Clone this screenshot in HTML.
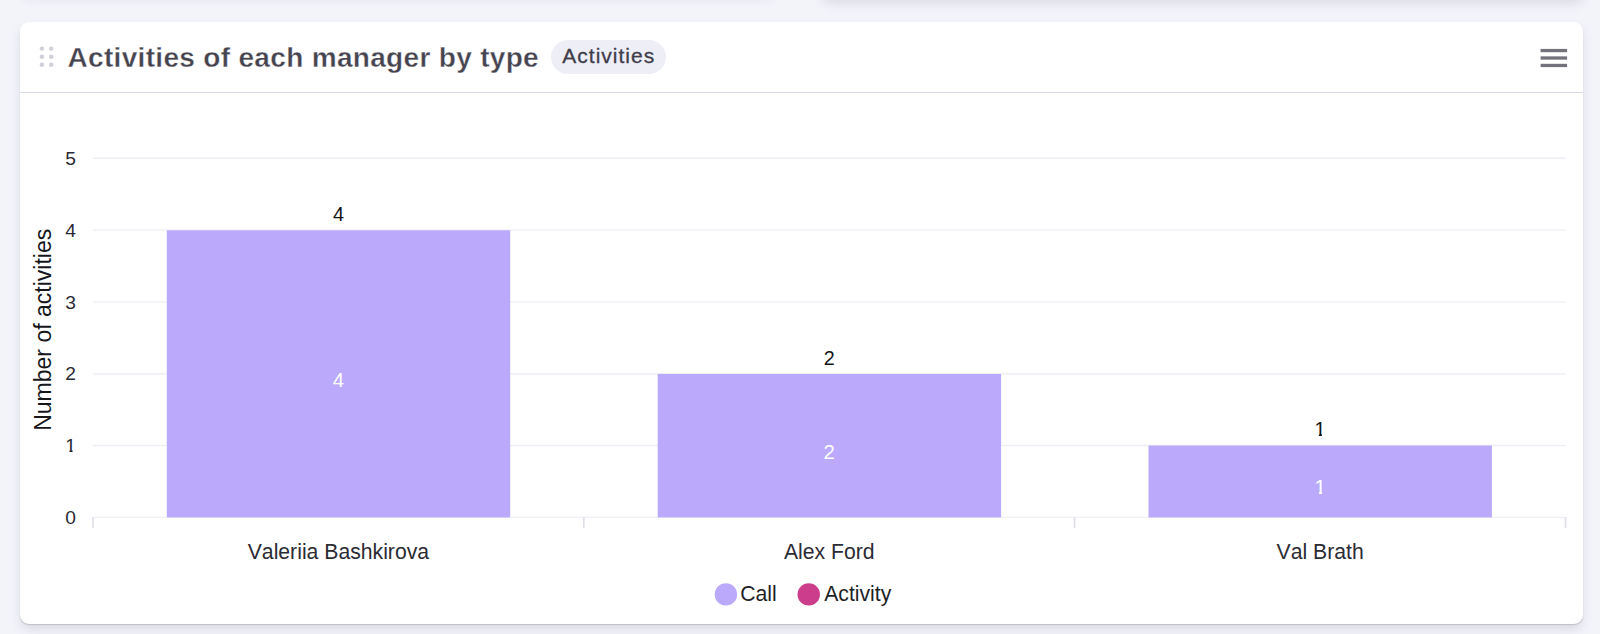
<!DOCTYPE html>
<html lang="en">
<head>
<meta charset="utf-8">
<title>Activities of each manager by type</title>
<style>
*{box-sizing:border-box;margin:0;padding:0}
html,body{width:1600px;height:634px;overflow:hidden;background:#f3f4fa;font-family:"Liberation Sans",Arial,sans-serif;font-kerning:none}
.prev{position:absolute;left:822px;top:-32px;width:762px;height:30px;background:#fff;border-radius:9px;box-shadow:0 1.500px 1px -.500px rgba(40,40,60,.17),0 6px 12px -2px rgba(60,60,90,.17)}
.prev2{position:absolute;left:20px;top:-38px;width:756px;height:30px;background:#fff;border-radius:9px;box-shadow:0 1.500px 1px -.500px rgba(40,40,60,.17),0 6px 12px -2px rgba(60,60,90,.17)}
.card{position:absolute;left:20px;top:22px;width:1563px;height:602px;background:#fff;border-radius:9px;box-shadow:0 1.500px 1px -.500px rgba(40,40,60,.17),0 6px 12px -2px rgba(60,60,90,.17)}
.head{position:absolute;left:0;top:0;right:0;height:71px;border-bottom:1.600px solid #d9d9e4}
.dots{position:absolute;left:19px;top:24px}
.title{position:absolute;left:47.500px;top:20px;-webkit-text-stroke:.350px #fff;font-size:28px;line-height:32px;font-weight:700;color:#45444f;white-space:nowrap;letter-spacing:.320px}
.badge{position:absolute;left:531px;top:18px;width:115px;height:34px;border-radius:17px;background:#eeeef7;color:#3f3d4a;font-size:21px;line-height:32.600px;text-align:center;letter-spacing:1px;padding-left:.500px;-webkit-text-stroke:.300px #3f3d4a}
.menu{position:absolute;left:1520px;top:26px}
svg text{font-family:"Liberation Sans",Arial,sans-serif;font-kerning:none}
</style>
</head>
<body>
<div class="prev2"></div>
<div class="prev"></div>
<div class="card">
  <div class="head">
    <svg class="dots" width="16" height="24" viewBox="0 0 16 24"><g fill="#d0d0d9"><circle cx="2.900" cy="2.600" r="2.200"/><circle cx="12.200" cy="2.600" r="2.200"/><circle cx="2.900" cy="10.700" r="2.200"/><circle cx="12.200" cy="10.700" r="2.200"/><circle cx="2.900" cy="18.700" r="2.200"/><circle cx="12.200" cy="18.700" r="2.200"/></g></svg>
    <div class="title">Activities of each manager by type</div>
    <div class="badge">Activities</div>
    <svg class="menu" width="28" height="20" viewBox="0 0 28 20"><g fill="#73727b"><rect x="0.600" y="0.900" width="26.500" height="3.300"/><rect x="0.600" y="8.350" width="26.500" height="3.300"/><rect x="0.600" y="15.800" width="26.500" height="3.300"/></g></svg>
  </div>
</div>
<svg style="position:absolute;left:0;top:0" width="1600" height="634" viewBox="0 0 1600 634">
  <defs><clipPath id="c1"><path d="M64.30 433.50H77.17V450.15H72.60V453.90H69.48V450.15H64.30Z"/></clipPath><clipPath id="c2"><path d="M1313.59 416.60H1326.68V433.62H1322.02V437.40H1318.87V433.62H1313.59Z"/></clipPath><clipPath id="c3"><path d="M1313.43 473.60H1326.85V491.18H1322.06V495.00H1318.86V491.18H1313.43Z"/></clipPath></defs>
  <g stroke="#eeeef5" stroke-width="1.400">
    <line x1="93" x2="1566" y1="158.300" y2="158.300"/>
    <line x1="93" x2="1566" y1="230.100" y2="230.100"/>
    <line x1="93" x2="1566" y1="301.900" y2="301.900"/>
    <line x1="93" x2="1566" y1="373.800" y2="373.800"/>
    <line x1="93" x2="1566" y1="445.500" y2="445.500"/>
    <line x1="92.200" x2="1566.200" y1="517.350" y2="517.350"/>
  </g>
  <g stroke="#dcdce6" stroke-width="1.600">
    <line x1="93" x2="93" y1="517.600" y2="527.800"/>
    <line x1="583.800" x2="583.800" y1="517.600" y2="527.800"/>
    <line x1="1074.600" x2="1074.600" y1="517.600" y2="527.800"/>
    <line x1="1565.500" x2="1565.500" y1="517.600" y2="527.800"/>
  </g>
  <g fill="#bba9fc">
    <rect x="166.800" y="230.300" width="343.400" height="287.100"/>
    <rect x="657.700" y="374" width="343.400" height="143.400"/>
    <rect x="1148.500" y="445.500" width="343.400" height="71.900"/>
  </g>
  <g font-size="19.200" fill="#2b2b33" text-anchor="middle" transform="translate(0 -0.600)">
    <text x="70.700" y="165.600">5</text>
    <text x="70.700" y="237.400">4</text>
    <text x="70.700" y="309.200">3</text>
    <text x="70.700" y="381.100">2</text>
    <text x="70.700" y="452.900" clip-path="url(#c1)">1</text>
    <text x="70.700" y="524.700">0</text>
  </g>
  <g font-size="19.800" fill="#131317" text-anchor="middle">
    <text x="338.400" y="220.900">4</text>
    <text x="829.200" y="364.600">2</text>
    <text x="1320.100" y="436.400" clip-path="url(#c2)">1</text>
  </g>
  <g font-size="20.400" fill="#ffffff" text-anchor="middle">
    <text x="338.400" y="386.800">4</text>
    <text x="829.200" y="458.500">2</text>
    <text x="1320.100" y="494" clip-path="url(#c3)">1</text>
  </g>
  <g font-size="21.200" fill="#2b2b33" text-anchor="middle">
    <text x="338.400" y="559">Valeriia Bashkirova</text>
    <text x="829.250" y="559">Alex Ford</text>
    <text x="1320.100" y="559">Val Brath</text>
  </g>
  <text font-size="23" fill="#16161b" text-anchor="middle" transform="translate(51.100 329.800) rotate(-90)">Number of activities</text>
  <circle cx="725.900" cy="594.400" r="11.200" fill="#bba9fc"/>
  <circle cx="808.750" cy="594.400" r="11.200" fill="#cc3d8b"/>
  <g font-size="21.200" fill="#1f1f26">
    <text x="740.200" y="600.700">Call</text>
    <text x="824.200" y="600.700">Activity</text>
  </g>
</svg>
</body>
</html>
